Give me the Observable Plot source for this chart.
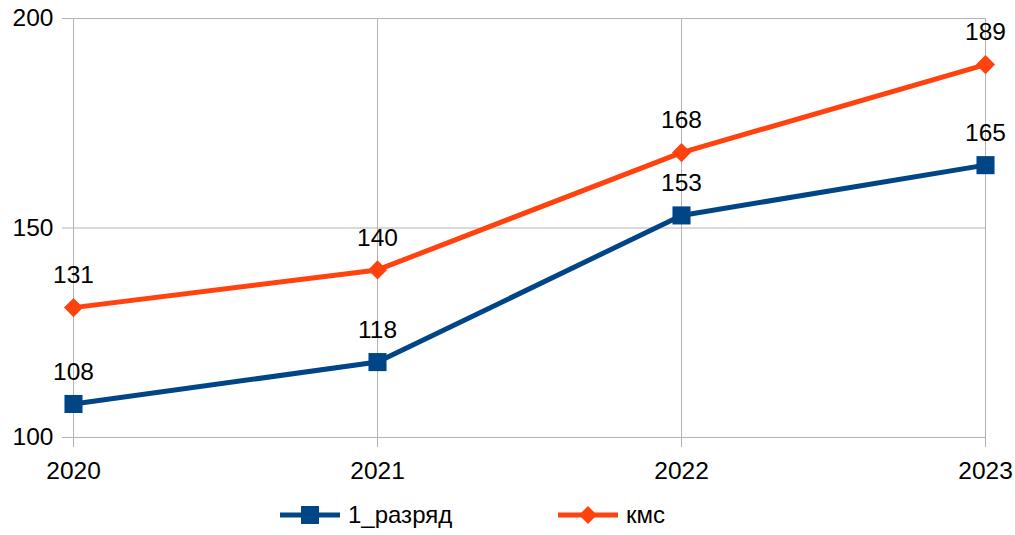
<!DOCTYPE html>
<html>
<head>
<meta charset="utf-8">
<script src="https://cdn.jsdelivr.net/npm/d3@7"></script>
<script src="https://cdn.jsdelivr.net/npm/@observablehq/plot@0.6"></script>
<style>
  html, body { margin: 0; padding: 0; background: #fff; }
  body { width: 1015px; height: 535px; overflow: hidden; font-family: "Liberation Sans", Arial, sans-serif; }
  #legend { display: flex; justify-content: flex-start; align-items: center; height: 40px; font-size: 24px; color: #000; padding-left: 280px; }
  .item { display: flex; align-items: center; }
  .item span { margin-left: 8px; }
</style>
</head>
<body>
<div id="chart"></div>
<div id="legend"></div>
<script>
const years = [2020, 2021, 2022, 2023];
const razryad1 = [108, 118, 153, 165];
const kms = [131, 140, 168, 189];
const seriesNames = ["1_разряд", "кмс"];
const seriesColors = ["#004586", "#ff420e"];
const yTicks = [100, 150, 200];

const data = [];
years.forEach((y, i) => {
  data.push({year: y, value: razryad1[i], series: seriesNames[0]});
  data.push({year: y, value: kms[i], series: seriesNames[1]});
});
const s1 = data.filter(d => d.series === seriesNames[0]);
const s2 = data.filter(d => d.series === seriesNames[1]);

const chart = Plot.plot({
  width: 1015,
  height: 495,
  marginTop: 18,
  marginBottom: 58,
  marginLeft: 72,
  marginRight: 30,
  style: {fontFamily: "Liberation Sans, Arial, sans-serif", fontSize: "24px", color: "#000", background: "#fff"},
  x: {type: "point", domain: years, padding: 0},
  y: {domain: [100, 200]},
  marks: [
    Plot.gridY(yTicks, {stroke: "#b3b3b3", strokeOpacity: 1, strokeWidth: 1}),
    Plot.gridX(years, {stroke: "#b3b3b3", strokeOpacity: 1, strokeWidth: 1}),
    Plot.axisY(yTicks, {tickSize: 10, tickPadding: 9, stroke: "#b3b3b3", label: null, fontSize: 24.5, fill: "#000"}),
    Plot.axisX(years, {tickSize: 10, tickPadding: 14, stroke: "#b3b3b3", label: null, fontSize: 24.5, fill: "#000", tickFormat: d => String(d)}),
    Plot.line(s1, {x: "year", y: "value", stroke: seriesColors[0], strokeWidth: 5}),
    Plot.line(s2, {x: "year", y: "value", stroke: seriesColors[1], strokeWidth: 5}),
    Plot.dot(s1, {x: "year", y: "value", symbol: "square", r: 10.2, fill: seriesColors[0], stroke: "none"}),
    Plot.dot(s2, {x: "year", y: "value", symbol: "diamond2", r: 8.6, fill: seriesColors[1], stroke: "none"}),
    Plot.text(data, {x: "year", y: "value", text: d => String(d.value), dy: -32, fontSize: 24.5, fill: "#000"})
  ]
});
document.getElementById("chart").appendChild(chart);

// Legend
const legend = d3.select("#legend");
seriesNames.forEach((name, i) => {
  const item = legend.append("div").attr("class", "item").style("width", i === 0 ? "278px" : "auto");
  const svg = item.append("svg").attr("width", 60).attr("height", 24);
  svg.append("line").attr("x1", 0).attr("x2", 60).attr("y1", 12).attr("y2", 12)
    .attr("stroke", seriesColors[i]).attr("stroke-width", 5);
  if (i === 0) {
    svg.append("rect").attr("x", 21).attr("y", 3).attr("width", 18).attr("height", 18).attr("fill", seriesColors[i]);
  } else {
    svg.append("path").attr("d", "M30,3L39,12L30,21L21,12Z").attr("fill", seriesColors[i]);
  }
  item.append("span").text(name);
});
</script>
</body>
</html>
